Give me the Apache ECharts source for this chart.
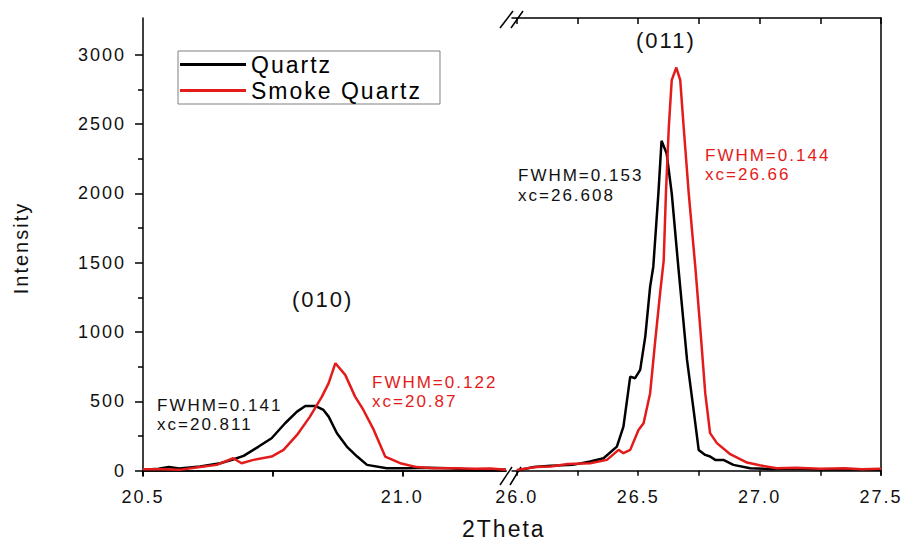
<!DOCTYPE html>
<html>
<head>
<meta charset="utf-8">
<script src="https://cdn.jsdelivr.net/npm/echarts@6/dist/echarts.min.js"></script>
<style>
html, body { margin: 0; padding: 0; background: #fff; }
#main { width: 905px; height: 542px; }
#main text { letter-spacing: 2px; }
</style>
</head>
<body>
<div id="main"></div>
<script>
// (010) region, 2Theta 20.5 - 21.2
var quartzLeftX = [20.50, 20.53, 20.55, 20.57, 20.61, 20.649, 20.672, 20.694, 20.723, 20.748, 20.774, 20.797, 20.813, 20.832, 20.848, 20.858, 20.874, 20.893, 20.913, 20.932, 20.97, 21.009, 21.05, 21.09, 21.13, 21.17, 21.20];
var quartzLeftY = [7, 15, 27, 17, 31, 55, 80, 108, 175, 235, 343, 427, 468, 468, 439, 391, 271, 175, 103, 43, 19, 19, 22, 18, 10, 12, 8];
var smokeLeftX = [20.50, 20.54, 20.57, 20.61, 20.642, 20.674, 20.69, 20.713, 20.748, 20.771, 20.797, 20.822, 20.845, 20.858, 20.871, 20.89, 20.909, 20.925, 20.945, 20.967, 20.996, 21.028, 21.06, 21.10, 21.14, 21.17, 21.20];
var smokeLeftY = [12, 12, 7, 27, 43, 91, 55, 79, 103, 151, 259, 391, 535, 632, 776, 692, 535, 439, 295, 103, 55, 27, 19, 19, 15, 17, 7];

// (011) region, 2Theta 26.0 - 27.5
var quartzRightX = [26.00, 26.07, 26.14, 26.23, 26.302, 26.357, 26.412, 26.439, 26.467, 26.487, 26.508, 26.529, 26.549, 26.562, 26.583, 26.596, 26.617, 26.638, 26.665, 26.701, 26.728, 26.749, 26.776, 26.796, 26.817, 26.851, 26.892, 26.961, 27.05, 27.15, 27.25, 27.35, 27.50];
var quartzRightY = [3, 27, 36, 43, 67, 91, 175, 319, 679, 668, 728, 968, 1328, 1472, 2000, 2380, 2289, 2000, 1472, 800, 439, 151, 115, 103, 79, 79, 43, 19, 12, 15, 10, 12, 8];
var smokeRightX = [26.00, 26.08, 26.14, 26.21, 26.302, 26.371, 26.419, 26.439, 26.467, 26.501, 26.522, 26.549, 26.569, 26.59, 26.605, 26.614, 26.626, 26.638, 26.657, 26.673, 26.687, 26.708, 26.735, 26.755, 26.776, 26.796, 26.824, 26.879, 26.948, 27.00, 27.07, 27.15, 27.25, 27.35, 27.42, 27.50];
var smokeRightY = [7, 27, 31, 50, 55, 79, 151, 127, 151, 295, 343, 560, 920, 1280, 1520, 2000, 2481, 2817, 2908, 2817, 2481, 2000, 1472, 1040, 560, 272, 200, 120, 60, 40, 19, 22, 15, 18, 12, 15];

var yTicks = [0, 500, 1000, 1500, 2000, 2500, 3000];
var yMinorTicks = [250, 750, 1250, 1750, 2250, 2750];
var xTicksLeft = [20.5, 20.75, 21.0];
var xLabelsLeft = [20.5, 21.0];
var xTicksRight = [26.0, 26.25, 26.5, 26.75, 27.0, 27.25, 27.5];
var xLabelsRight = [26.0, 26.5, 27.0, 27.5];

var RED = '#e31b1b';
var FONT = "'Liberation Sans', Arial, sans-serif";

function pairs(xs, ys) {
  return xs.map(function (x, i) { return [x, ys[i]]; });
}

function bottomAxis(grid, min, max, ticks, labels) {
  return {
    type: 'value', gridIndex: grid, position: 'bottom', min: min, max: max,
    axisLine: {lineStyle: {color: '#000', width: 1.5}},
    axisTick: {customValues: ticks, length: 5, lineStyle: {color: '#000', width: 1.5}},
    axisLabel: {customValues: labels, margin: 13, color: '#111', fontSize: 18, fontFamily: FONT,
      formatter: function (v) { return v.toFixed(1); }},
    splitLine: {show: false}
  };
}

function topAxis(grid, min, max, ticks) {
  return {
    type: 'value', gridIndex: grid, position: 'top', min: min, max: max,
    axisLine: {lineStyle: {color: '#000', width: 1.5}},
    axisTick: {customValues: ticks, inside: true, length: 6, lineStyle: {color: '#000', width: 1.5}},
    axisLabel: {show: false},
    splitLine: {show: false}
  };
}

var yMin = -30, yMax = 3265;

var option = {
  animation: false,
  backgroundColor: '#fff',
  grid: [
    {left: 143, top: 18, width: 363, height: 457},
    {left: 512, top: 18, width: 369, height: 457}
  ],
  xAxis: [
    bottomAxis(0, 20.5, 21.2, xTicksLeft, xLabelsLeft),
    topAxis(0, 20.5, 21.2, xTicksLeft),
    bottomAxis(1, 25.98, 27.5, xTicksRight, xLabelsRight),
    topAxis(1, 25.98, 27.5, xTicksRight)
  ],
  yAxis: [
    {
      type: 'value', gridIndex: 0, position: 'left', min: yMin, max: yMax,
      axisLine: {lineStyle: {color: '#000', width: 1.5}},
      axisTick: {customValues: yTicks, length: 8, lineStyle: {color: '#000', width: 1.5}},
      axisLabel: {customValues: yTicks, margin: 17, color: '#111', fontSize: 18, fontFamily: FONT,
        formatter: function (v) { return String(v); }},
      splitLine: {show: false}
    },
    {
      type: 'value', gridIndex: 0, position: 'left', min: yMin, max: yMax,
      axisLine: {show: false},
      axisTick: {customValues: yMinorTicks, length: 5, lineStyle: {color: '#000', width: 1.5}},
      axisLabel: {show: false},
      splitLine: {show: false}
    },
    {
      type: 'value', gridIndex: 1, position: 'right', min: yMin, max: yMax,
      axisLine: {show: true, lineStyle: {color: '#000', width: 1.5}},
      axisTick: {show: false},
      axisLabel: {show: false},
      splitLine: {show: false}
    }
  ],
  legend: {
    data: ['Quartz', 'Smoke Quartz'],
    orient: 'vertical',
    left: 178, top: 51,
    itemWidth: 66, itemHeight: 3, itemGap: 3,
    icon: 'rect',
    padding: [2, 42, 2, 2],
    borderColor: '#808080', borderWidth: 1,
    textStyle: {fontSize: 23, fontFamily: FONT, color: '#000'}
  },
  series: [
    {name: 'Quartz', type: 'line', xAxisIndex: 0, yAxisIndex: 0, showSymbol: false,
      data: pairs(quartzLeftX, quartzLeftY), lineStyle: {color: '#000', width: 2.5}, itemStyle: {color: '#000'}},
    {name: 'Smoke Quartz', type: 'line', xAxisIndex: 0, yAxisIndex: 0, showSymbol: false,
      data: pairs(smokeLeftX, smokeLeftY), lineStyle: {color: RED, width: 2.5}, itemStyle: {color: RED}},
    {name: 'Quartz', type: 'line', xAxisIndex: 2, yAxisIndex: 2, showSymbol: false,
      data: pairs(quartzRightX, quartzRightY), lineStyle: {color: '#000', width: 2.5}, itemStyle: {color: '#000'}},
    {name: 'Smoke Quartz', type: 'line', xAxisIndex: 2, yAxisIndex: 2, showSymbol: false,
      data: pairs(smokeRightX, smokeRightY), lineStyle: {color: RED, width: 2.5}, itemStyle: {color: RED}}
  ],
  graphic: [
    // axis break marks
    {type: 'line', shape: {x1: 500, y1: 485, x2: 512, y2: 467}, style: {stroke: '#000', lineWidth: 1.5}},
    {type: 'line', shape: {x1: 510, y1: 485, x2: 521, y2: 467}, style: {stroke: '#000', lineWidth: 1.5}},
    {type: 'line', shape: {x1: 500, y1: 28, x2: 513, y2: 11}, style: {stroke: '#000', lineWidth: 1.5}},
    {type: 'line', shape: {x1: 511, y1: 28, x2: 523, y2: 11}, style: {stroke: '#000', lineWidth: 1.5}},
    // titles
    {type: 'text', left: 462, top: 517, style: {text: '2Theta', font: '23px ' + FONT, fill: '#111'}},
    {type: 'text', x: 21, y: 248, rotation: Math.PI / 2,
      style: {text: 'Intensity', font: '20px ' + FONT, fill: '#111', align: 'center', verticalAlign: 'middle'}},
    {type: 'text', left: 292, top: 288, style: {text: '(010)', font: '22px ' + FONT, fill: '#111'}},
    {type: 'text', left: 636, top: 29, style: {text: '(011)', font: '22px ' + FONT, fill: '#111'}},
    // fit results
    {type: 'text', left: 157, top: 397, style: {text: 'FWHM=0.141', font: '17px ' + FONT, fill: '#111'}},
    {type: 'text', left: 157, top: 416, style: {text: 'xc=20.811', font: '17px ' + FONT, fill: '#111'}},
    {type: 'text', left: 372, top: 374, style: {text: 'FWHM=0.122', font: '17px ' + FONT, fill: RED}},
    {type: 'text', left: 372, top: 393, style: {text: 'xc=20.87', font: '17px ' + FONT, fill: RED}},
    {type: 'text', left: 518, top: 167, style: {text: 'FWHM=0.153', font: '17px ' + FONT, fill: '#111'}},
    {type: 'text', left: 518, top: 187, style: {text: 'xc=26.608', font: '17px ' + FONT, fill: '#111'}},
    {type: 'text', left: 705, top: 147, style: {text: 'FWHM=0.144', font: '17px ' + FONT, fill: RED}},
    {type: 'text', left: 705, top: 166, style: {text: 'xc=26.66', font: '17px ' + FONT, fill: RED}}
  ]
};

var chart = echarts.init(document.getElementById('main'), null, {renderer: 'svg'});
chart.setOption(option);
</script>
</body>
</html>
